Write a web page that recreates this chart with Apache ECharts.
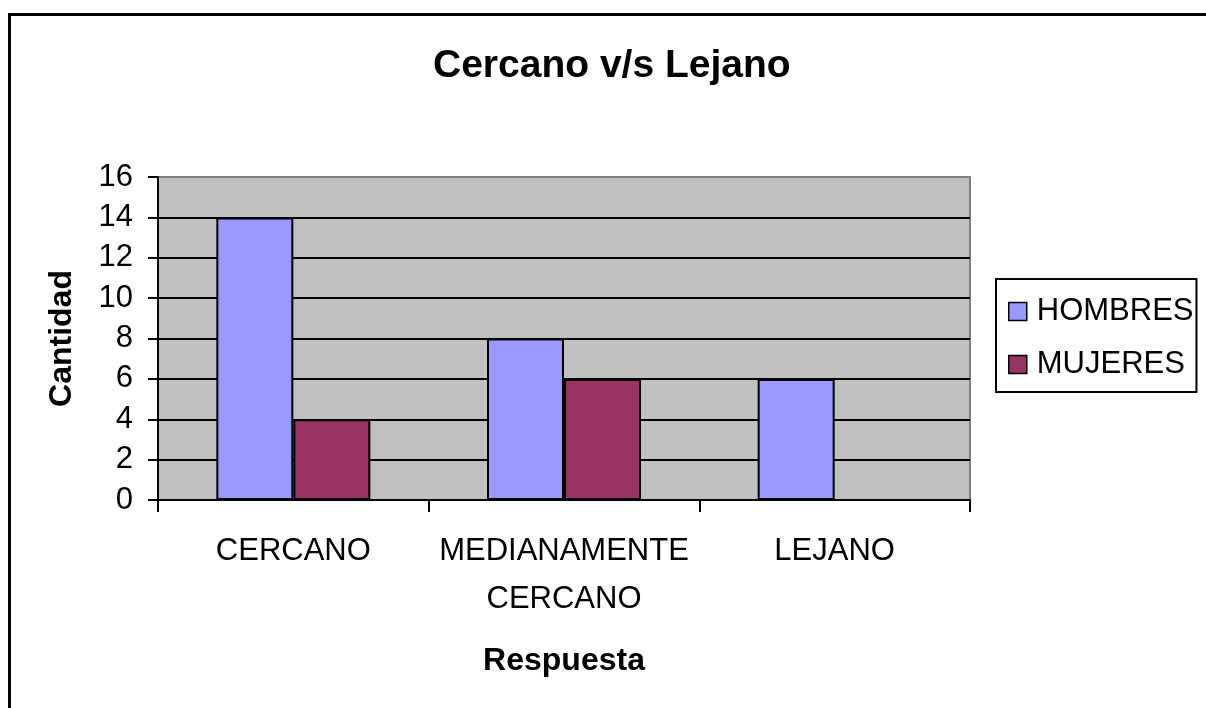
<html>
	<head>
		<meta charset="utf-8">
		<script src="https://cdn.jsdelivr.net/npm/echarts@6/dist/echarts.min.js"></script>
		<style>
			body { margin: 0; background: #fff; }
		</style>
	</head>
<body>
	<div id="main" style="width: 1206px;height:708px;"></div>
	<script type="text/javascript">
		// datos del grafico
		var categorias = ['CERCANO', 'MEDIANAMENTE\nCERCANO', 'LEJANO'];
		var hombres = [14, 8, 6];
		var mujeres = [4, 6, 0];
		var nombresSeries = ['HOMBRES', 'MUJERES'];
		var ejeY = { min: 0, max: 16, interval: 2 };

		var fuente = '"Liberation Sans", Arial, sans-serif';

		// colores de las lineas horizontales, la ultima (16) queda gris como el borde
		var coloresLineas = [];
		for (var i = 0; i <= (ejeY.max - ejeY.min) / ejeY.interval; i++) {
			coloresLineas.push(i === (ejeY.max - ejeY.min) / ejeY.interval ? '#808080' : '#000000');
		}

		var myChart = echarts.init(document.getElementById('main'));

		var option = {
			backgroundColor: '#ffffff',
			animation: false,
			textStyle: { fontFamily: fuente },
			graphic: [{
				type: 'rect',
				shape: { x: 9.5, y: 14.5, width: 1220, height: 720 },
				style: { fill: 'none', stroke: '#000', lineWidth: 3 },
				z: 100
			}],
			title: {
				text: 'Cercano v/s Lejano',
				left: 433,
				top: 47,
				padding: 0,
				textStyle: { fontFamily: fuente, fontSize: 39, fontWeight: 'bold', color: '#000' }
			},
			legend: {
				orient: 'vertical',
				left: 996,
				top: 279,
				padding: [17, 3, 12, 12],
				itemGap: 22,
				itemWidth: 18,
				itemHeight: 18,
				borderColor: '#000',
				borderWidth: 2,
				icon: 'rect',
				itemStyle: { borderColor: '#000', borderWidth: 1.5 },
				textStyle: { fontFamily: fuente, fontSize: 31, color: '#000', padding: [0, 0, 0, 5] },
				data: nombresSeries
			},
			grid: {
				left: 158,
				right: 236,
				top: 177,
				bottom: 208,
				show: true,
				backgroundColor: '#c0c0c0',
				borderColor: '#808080',
				borderWidth: 2
			},
			xAxis: {
				type: 'category',
				data: categorias,
				name: 'Respuesta',
				nameLocation: 'middle',
				nameGap: 145,
				nameTextStyle: { fontFamily: fuente, fontSize: 32, fontWeight: 'bold', color: '#000' },
				axisLine: { lineStyle: { color: '#000', width: 2 } },
				axisTick: { show: true, length: 12, lineStyle: { color: '#000', width: 2 } },
				axisLabel: { fontFamily: fuente, fontSize: 31, color: '#000', margin: 27, lineHeight: 48, interval: 0 },
				splitLine: { show: false }
			},
			yAxis: {
				type: 'value',
				min: ejeY.min,
				max: ejeY.max,
				interval: ejeY.interval,
				name: 'Cantidad',
				nameLocation: 'middle',
				nameGap: 80,
				nameTextStyle: { fontFamily: fuente, fontSize: 32, fontWeight: 'bold', color: '#000' },
				axisLine: { show: true, lineStyle: { color: '#000', width: 2 } },
				axisTick: { show: true, length: 10, lineStyle: { color: '#000', width: 2 } },
				axisLabel: { fontFamily: fuente, fontSize: 31, color: '#000', margin: 25 },
				splitLine: { show: true, lineStyle: { color: coloresLineas, width: 2 } }
			},
			series: [
				{
					name: nombresSeries[0],
					type: 'bar',
					data: hombres,
					barWidth: 77,
					barGap: '0%',
					itemStyle: { color: '#9999ff', borderColor: '#000', borderWidth: 2 }
				},
				{
					name: nombresSeries[1],
					type: 'bar',
					data: mujeres,
					barWidth: 77,
					barGap: '0%',
					itemStyle: { color: '#993366', borderColor: '#000', borderWidth: 2 }
				}
			]
		};

		myChart.setOption(option);
	</script>
</body>
</html>
